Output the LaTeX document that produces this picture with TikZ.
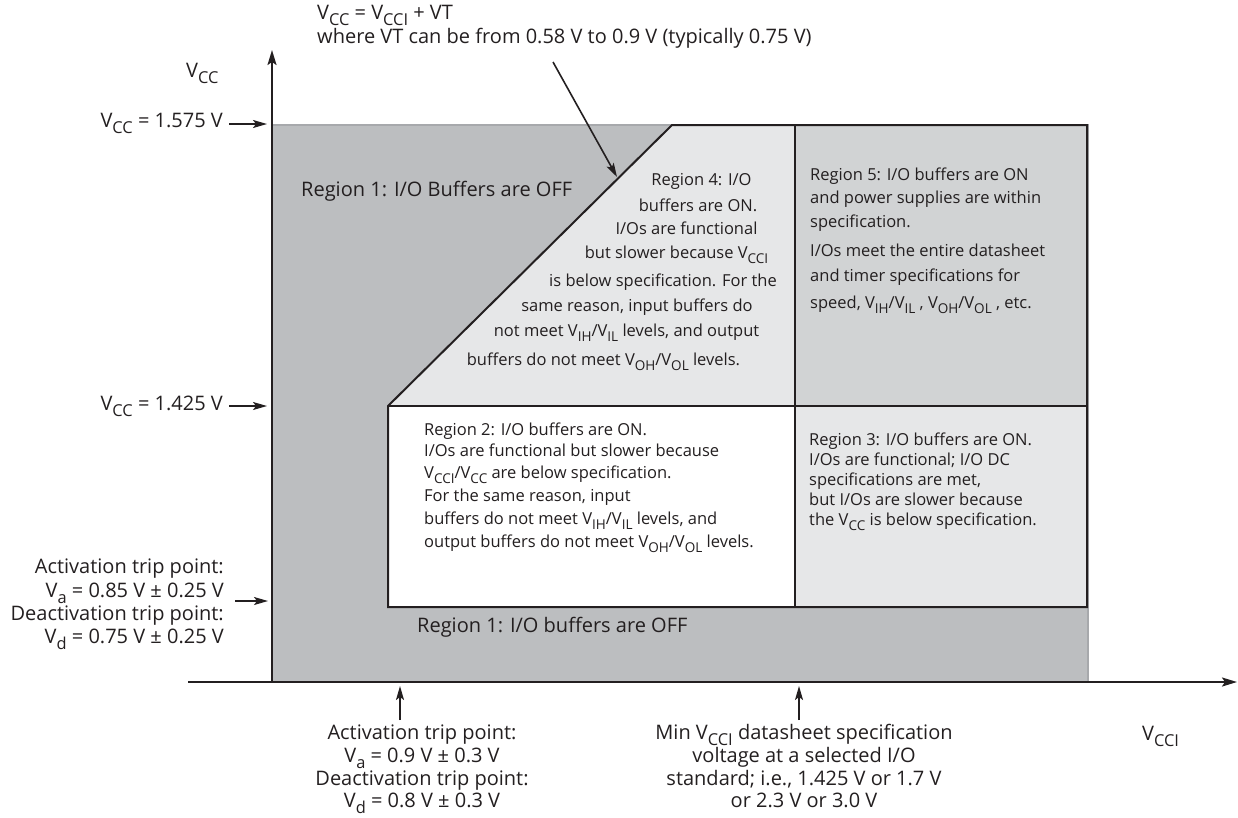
\documentclass[tikz,border=0pt]{standalone}
\usepackage{fontspec}
\setmainfont{Open Sans}
\usepackage{graphicx}
\usetikzlibrary{arrows.meta}
\definecolor{ink}{HTML}{231F20}
\definecolor{rOne}{HTML}{BCBEC0}
\definecolor{rFive}{HTML}{D1D3D4}
\definecolor{rLight}{HTML}{E6E7E8}
\definecolor{edgegray}{HTML}{A7A9AC}
\newcommand{\lo}[1]{\smash{\raisebox{-0.32em}{\scalebox{0.82}{#1}}}}
\begin{document}
\begin{tikzpicture}[x=1pt,y=-1pt,
  big/.style={font=\fontsize{20}{23}\selectfont, text=ink, inner sep=0pt},
  small/.style={font=\fontsize{16.5}{20}\selectfont, text=ink, inner sep=0pt},
  outline/.style={draw=ink, line width=2pt, line join=miter},
  axis/.style={draw=ink, line width=2pt, -{Stealth[length=15pt,width=9pt,inset=3pt]}},
  pointer/.style={draw=ink, line width=1.6pt, -{Stealth[length=14pt,width=8pt,inset=3pt]}},
]
\useasboundingbox (0,0) rectangle (1238,817);

% regions
\fill[rOne] (272,125) rectangle (1088,682);
\draw[edgegray, line width=2pt] (272,125) -- (1088,125) -- (1088,682);
\fill[rLight] (388,406) -- (672,125) -- (795,125) -- (795,406) -- cycle;
\fill[rFive] (795,125) rectangle (1087,406);
\fill[white] (388,406) rectangle (795,607);
\fill[rLight] (795,406) rectangle (1087,607);
\draw[outline] (388,406) -- (672,125) -- (1087,125) -- (1087,607) -- (388,607) -- cycle;
\draw[outline] (388,406) -- (1087,406);
\draw[outline] (795,125) -- (795,607);

% axes
\coordinate (O) at (272,682);
\coordinate (ytop) at (272,50);
\coordinate (xl) at (188,682);
\coordinate (xr) at (1237,682);
\draw[axis] (xl) -- (xr);
\draw[axis] (O) -- (ytop);
\node[big, anchor=base west] (ylab) at (186,77) {V\lo{CC}};
\node[big, anchor=base west] (xlab) at (1142,740) {V\lo{CCI}};

% top equation
\node[big, anchor=base west] (eq1) at (317,19) {V\lo{CC} = V\lo{CCI} + VT};
\node[big, anchor=base west] (eq2) at (317,43) {where VT can be from 0.58 V to 0.9 V (typically 0.75 V)};
\coordinate (eqtail) at (553,62);
\coordinate (eqtip) at (617,177);
\draw[pointer] (eqtail) -- (eqtip);

% left labels
\node[big, anchor=base east] (vhi) at (223,127) {V\lo{CC} = 1.575 V};
\coordinate (vhiS) at (229,124);
\coordinate (vhiT) at (267,124);
\draw[pointer] (vhiS) -- (vhiT);
\node[big, anchor=base east] (vlo) at (223,410) {V\lo{CC} = 1.425 V};
\coordinate (vloS) at (229,406);
\coordinate (vloT) at (267,406);
\draw[pointer] (vloS) -- (vloT);

\node[big, anchor=base east] (lt1) at (224,573) {Activation trip point:};
\node[big, anchor=base east] (lt2) at (224,597) {V\lo{a} = 0.85 V ± 0.25 V};
\node[big, anchor=base east] (lt3) at (224,620) {Deactivation trip point:};
\node[big, anchor=base east] (lt4) at (224,643) {V\lo{d} = 0.75 V ± 0.25 V};
\coordinate (ltS) at (235,601);
\coordinate (ltT) at (268,601);
\draw[pointer] (ltS) -- (ltT);

% bottom labels
\node[big, anchor=base] (bt1) at (422,739) {Activation trip point:};
\node[big, anchor=base] (bt2) at (422,762) {V\lo{a} = 0.9 V ± 0.3 V};
\node[big, anchor=base] (bt3) at (422,785) {Deactivation trip point:};
\node[big, anchor=base] (bt4) at (422,807) {V\lo{d} = 0.8 V ± 0.3 V};
\coordinate (btS) at (400,720);
\coordinate (btT) at (400,686);
\draw[pointer] (btS) -- (btT);

\node[big, anchor=base] (bm1) at (804,739) {Min V\lo{CCI} datasheet specification};
\node[big, anchor=base] (bm2) at (804,762) {voltage at a selected I/O};
\node[big, anchor=base] (bm3) at (804,785) {standard; i.e., 1.425 V or 1.7 V};
\node[big, anchor=base] (bm4) at (804,807) {or 2.3 V or 3.0 V};
\coordinate (bmS) at (799,720);
\coordinate (bmT) at (799,686);
\draw[pointer] (bmS) -- (bmT);

% region 1
\node[big, anchor=base west] (r1a) at (301,196) {Region 1: I/O Buffers are OFF};
\node[big, anchor=base west] (r1b) at (417,632) {Region 1: I/O buffers are OFF};

% region 4
\node[small, anchor=base] (r4a) at (701.5,185) {Region 4: I/O};
\node[small, anchor=base] (r4b) at (698,211) {buffers are ON.};
\node[small, anchor=base] (r4c) at (686.5,234) {I/Os are functional};
\node[small, anchor=base] (r4d) at (676.5,258) {but slower because V\lo{CCI}};
\node[small, anchor=base] (r4e) at (663,286) {is below specification. For the};
\node[small, anchor=base] (r4f) at (637,311) {same reason, input buffers do};
\node[small, anchor=base] (r4g) at (626.5,336) {not meet V\lo{IH}/V\lo{IL} levels, and output};
\node[small, anchor=base] (r4h) at (603.5,365) {buffers do not meet V\lo{OH}/V\lo{OL} levels.};

% region 5
\node[small, anchor=base west] (r5a) at (810,180) {Region 5: I/O buffers are ON};
\node[small, anchor=base west] (r5b) at (810,203) {and power supplies are within};
\node[small, anchor=base west] (r5c) at (810,227) {specification.};
\node[small, anchor=base west] (r5d) at (810,256) {I/Os meet the entire datasheet};
\node[small, anchor=base west] (r5e) at (810,281) {and timer specifications for};
\node[small, anchor=base west] (r5f) at (810,308) {speed, V\lo{IH}/V\lo{IL} , V\lo{OH}/V\lo{OL} , etc.};

% region 2
\node[small, anchor=base west] (r2a) at (424,435) {Region 2: I/O buffers are ON.};
\node[small, anchor=base west] (r2b) at (424,456) {I/Os are functional but slower because};
\node[small, anchor=base west] (r2c) at (424,478) {V\lo{CCI}/V\lo{CC} are below specification.};
\node[small, anchor=base west] (r2d) at (424,501) {For the same reason, input};
\node[small, anchor=base west] (r2e) at (424,524) {buffers do not meet V\lo{IH}/V\lo{IL} levels, and};
\node[small, anchor=base west] (r2f) at (424,547) {output buffers do not meet V\lo{OH}/V\lo{OL} levels.};

% region 3
\node[small, anchor=base west] (r3a) at (809,445) {Region 3: I/O buffers are ON.};
\node[small, anchor=base west] (r3b) at (809,465) {I/Os are functional; I/O DC};
\node[small, anchor=base west] (r3c) at (809,485) {specifications are met,};
\node[small, anchor=base west] (r3d) at (809,505) {but I/Os are slower because};
\node[small, anchor=base west] (r3e) at (809,525) {the V\lo{CC} is below specification.};
\end{tikzpicture}
\end{document}
